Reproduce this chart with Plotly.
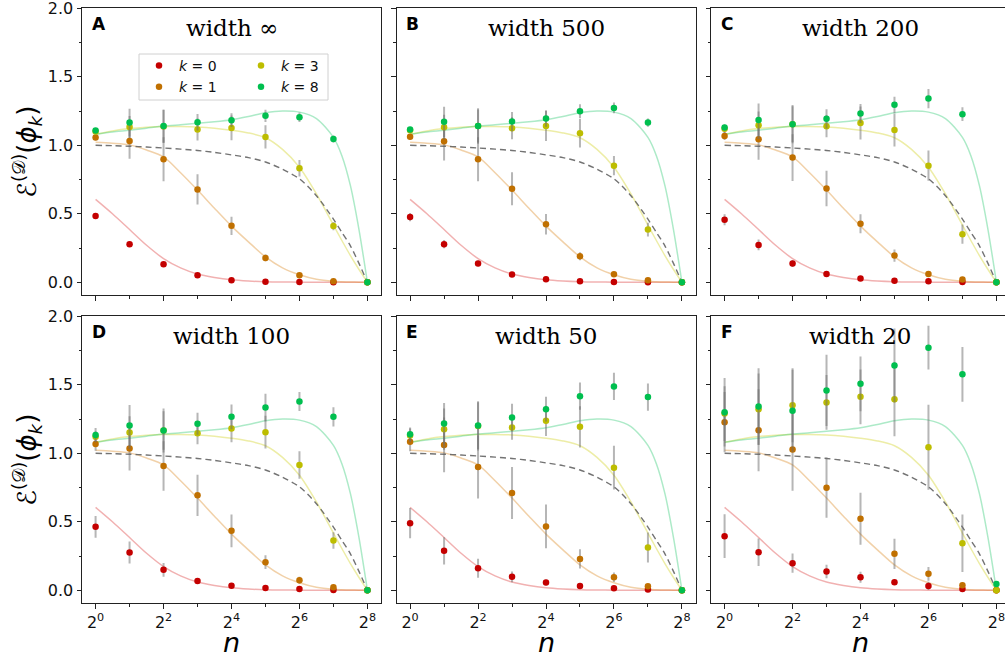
import math
import plotly.graph_objects as go

# ---------------- data ----------------
n_vals = [1, 2, 4, 8, 16, 32, 64, 128, 256]
panel_letters = ["A", "B", "C", "D", "E", "F"]
panel_widths = ["∞", "500", "200", "100", "50", "20"]
k_labels = ["0", "1", "3", "8"]

# measured means, one row per panel (A..F)
k0_mean = [
    [0.483, 0.278, 0.132, 0.051, 0.015, 0.003, 0.002, 0.000, 0.0],
    [0.476, 0.278, 0.137, 0.056, 0.022, 0.007, 0.002, 0.000, 0.0],
    [0.456, 0.273, 0.137, 0.061, 0.027, 0.012, 0.007, 0.002, 0.0],
    [0.463, 0.276, 0.149, 0.068, 0.034, 0.017, 0.010, 0.002, 0.0],
    [0.490, 0.288, 0.161, 0.098, 0.056, 0.032, 0.015, 0.005, 0.0],
    [0.395, 0.278, 0.198, 0.137, 0.095, 0.059, 0.032, 0.010, 0.0],
]
k0_err = [
    [0.02, 0.02, 0.015, 0.01, 0.005, 0.003, 0.002, 0.001, 0],
    [0.03, 0.03, 0.02, 0.01, 0.006, 0.003, 0.002, 0.001, 0],
    [0.04, 0.04, 0.025, 0.012, 0.008, 0.004, 0.003, 0.002, 0],
    [0.08, 0.08, 0.05, 0.02, 0.012, 0.006, 0.004, 0.002, 0],
    [0.11, 0.10, 0.07, 0.04, 0.02, 0.01, 0.006, 0.003, 0],
    [0.16, 0.10, 0.07, 0.05, 0.04, 0.02, 0.03, 0.01, 0],
]
k1_mean = [
    [1.056, 1.032, 0.898, 0.678, 0.412, 0.178, 0.051, 0.007, 0.0],
    [1.063, 1.029, 0.898, 0.683, 0.424, 0.190, 0.059, 0.015, 0.0],
    [1.068, 1.044, 0.910, 0.685, 0.427, 0.195, 0.061, 0.020, 0.0],
    [1.068, 1.034, 0.907, 0.693, 0.434, 0.205, 0.073, 0.022, 0.0],
    [1.085, 1.061, 0.900, 0.710, 0.466, 0.229, 0.095, 0.029, 0.0],
    [1.227, 1.168, 1.027, 0.749, 0.522, 0.266, 0.120, 0.037, 0.0],
]
k1_err = [
    [0.02, 0.13, 0.16, 0.11, 0.066, 0.025, 0.01, 0.005, 0],
    [0.02, 0.14, 0.16, 0.12, 0.075, 0.03, 0.012, 0.005, 0],
    [0.03, 0.15, 0.17, 0.13, 0.07, 0.045, 0.02, 0.008, 0],
    [0.05, 0.16, 0.18, 0.15, 0.12, 0.05, 0.025, 0.01, 0],
    [0.07, 0.20, 0.23, 0.19, 0.16, 0.07, 0.035, 0.015, 0],
    [0.22, 0.30, 0.30, 0.22, 0.19, 0.11, 0.05, 0.02, 0],
]
k3_mean = [
    [1.100, 1.134, 1.137, 1.115, 1.127, 1.061, 0.832, 0.410, 0.0],
    [1.110, 1.132, 1.141, 1.124, 1.141, 1.088, 0.851, 0.385, 0.0],
    [1.120, 1.146, 1.154, 1.139, 1.163, 1.112, 0.851, 0.351, 0.0],
    [1.120, 1.151, 1.166, 1.146, 1.180, 1.154, 0.915, 0.363, 0.0],
    [1.130, 1.176, 1.200, 1.188, 1.237, 1.193, 0.895, 0.312, 0.0],
    [1.290, 1.322, 1.351, 1.371, 1.412, 1.395, 1.044, 0.344, 0.0],
]
k3_err = [
    [0.02, 0.08, 0.12, 0.08, 0.09, 0.085, 0.06, 0.03, 0],
    [0.02, 0.09, 0.13, 0.08, 0.11, 0.105, 0.07, 0.05, 0],
    [0.03, 0.10, 0.14, 0.08, 0.12, 0.12, 0.11, 0.07, 0],
    [0.04, 0.12, 0.16, 0.08, 0.10, 0.12, 0.10, 0.06, 0],
    [0.05, 0.15, 0.18, 0.09, 0.11, 0.15, 0.16, 0.11, 0],
    [0.20, 0.26, 0.27, 0.20, 0.20, 0.27, 0.31, 0.21, 0],
]
k8_mean = [
    [1.107, 1.166, 1.141, 1.168, 1.183, 1.215, 1.205, 1.046, 0.0],
    [1.115, 1.171, 1.141, 1.173, 1.195, 1.249, 1.273, 1.166, 0.0],
    [1.129, 1.185, 1.154, 1.193, 1.232, 1.295, 1.341, 1.227, 0.0],
    [1.134, 1.202, 1.166, 1.215, 1.266, 1.334, 1.378, 1.266, 0.0],
    [1.139, 1.217, 1.202, 1.261, 1.322, 1.417, 1.488, 1.410, 0.0],
    [1.300, 1.341, 1.310, 1.459, 1.507, 1.641, 1.771, 1.576, 0.046],
]
k8_err = [
    [0.015, 0.10, 0.12, 0.06, 0.05, 0.045, 0.035, 0.025, 0],
    [0.015, 0.11, 0.12, 0.07, 0.06, 0.05, 0.04, 0.03, 0],
    [0.02, 0.12, 0.13, 0.07, 0.07, 0.06, 0.07, 0.05, 0],
    [0.05, 0.15, 0.14, 0.08, 0.09, 0.10, 0.07, 0.07, 0],
    [0.05, 0.15, 0.17, 0.10, 0.09, 0.10, 0.10, 0.10, 0],
    [0.25, 0.28, 0.30, 0.26, 0.20, 0.27, 0.16, 0.20, 0.02],
]

# theory curves (same in every panel), sampled along n
theory_n = [1, 1.41, 2, 2.83, 4, 5.66, 8, 11.3, 16, 22.6, 32, 45.3, 64, 90.5,
            128, 152, 181, 215, 256]
theory_k0 = [0.605, 0.50, 0.385, 0.27, 0.173, 0.105, 0.060, 0.035, 0.018, 0.009,
             0.004, 0.002, 0.001, 0.0, 0.0, 0.0, 0.0, 0.0, 0.0]
theory_k1 = [1.022, 1.015, 1.003, 0.965, 0.915, 0.80, 0.673, 0.54, 0.41, 0.295,
             0.185, 0.105, 0.055, 0.022, 0.007, 0.004, 0.002, 0.001, 0.0]
theory_k3 = [1.08, 1.105, 1.122, 1.132, 1.137, 1.137, 1.134, 1.125, 1.11, 1.09,
             1.055, 0.97, 0.84, 0.645, 0.417, 0.305, 0.195, 0.095, 0.0]
theory_k8 = [1.08, 1.097, 1.11, 1.125, 1.14, 1.15, 1.16, 1.172, 1.187, 1.21,
             1.237, 1.25, 1.242, 1.195, 1.058, 0.924, 0.705, 0.39, 0.0]
theory_dashed = [1.0, 0.997, 0.993, 0.987, 0.98, 0.972, 0.962, 0.948, 0.93, 0.91,
                 0.878, 0.825, 0.755, 0.632, 0.461, 0.365, 0.266, 0.14, 0.0]

# ---------------- style ----------------
W, H = 1005, 661
marker_colors = ["#c40000", "#c07000", "#bdbd00", "#00bf4f"]
curve_colors = ["rgba(220,60,60,0.40)", "rgba(220,140,40,0.40)",
                "rgba(215,215,60,0.45)", "rgba(40,200,110,0.38)"]
err_color = "rgba(110,110,110,0.50)"
axis_color = "#222222"

col_px = [(82, 381), (396.5, 695.5), (711, 1005)]
row_px = [(8, 295.3), (316, 603.3)]
px_per_unit = 299 / 8.8

means = [k0_mean, k1_mean, k3_mean, k8_mean]
errs = [k0_err, k1_err, k3_err, k8_err]
theories = [theory_k0, theory_k1, theory_k3, theory_k8]


def px_to_x(px):
    return px / W


def px_to_y(py):
    return 1 - py / H


fig = go.Figure()
layout = {}
annotations = []

for p in range(6):
    r, c = divmod(p, 3)
    idx = "" if p == 0 else str(p + 1)
    xa, ya = "x" + idx, "y" + idx
    x0, x1 = col_px[c]
    y0, y1 = row_px[r]
    lo = -0.4
    hi = lo + (x1 - x0) / px_per_unit
    layout["xaxis" + idx] = dict(
        domain=[px_to_x(x0), px_to_x(x1)], anchor=ya, type="log",
        range=[lo * math.log10(2), hi * math.log10(2)],
        tickvals=[1, 4, 16, 64, 256],
        ticktext=["2<sup>0</sup>", "2<sup>2</sup>", "2<sup>4</sup>",
                  "2<sup>6</sup>", "2<sup>8</sup>"],
        showticklabels=(r == 1), ticks="outside", ticklen=4.5, tickwidth=1,
        tickcolor=axis_color, ticklabeloverflow="allow",
        minor=dict(tickvals=[2, 8, 32, 128], ticks="outside", ticklen=2.5,
                   tickcolor=axis_color, tickwidth=1, showgrid=False),
        showline=True, linecolor=axis_color, linewidth=1, mirror=True,
        showgrid=False, zeroline=False,
        tickfont=dict(family="DejaVu Sans", size=16, color="#111"),
        automargin=False, fixedrange=True,
    )
    layout["yaxis" + idx] = dict(
        domain=[px_to_y(y1), px_to_y(y0)], anchor=xa,
        range=[-0.095, 2.002],
        tickvals=[0, 0.5, 1.0, 1.5, 2.0],
        ticktext=["0.0", "0.5", "1.0", "1.5", "2.0"],
        showticklabels=(c == 0), ticks="outside", ticklen=4.5, tickwidth=1,
        tickcolor=axis_color, ticklabeloverflow="allow",
        minor=dict(tickvals=[0.25, 0.75, 1.25, 1.75], ticks="outside",
                   ticklen=2.5, tickcolor=axis_color, tickwidth=1,
                   showgrid=False),
        showline=True, linecolor=axis_color, linewidth=1, mirror=(c != 2),
        showgrid=False, zeroline=False,
        tickfont=dict(family="DejaVu Sans", size=16, color="#111"),
        automargin=False, fixedrange=True,
    )

    # theory curves
    for ki in range(4):
        fig.add_trace(go.Scatter(
            x=theory_n, y=theories[ki], xaxis=xa, yaxis=ya, mode="lines",
            line=dict(color=curve_colors[ki], width=1.5, shape="spline",
                      smoothing=0.8),
            showlegend=False, hoverinfo="skip"))
    fig.add_trace(go.Scatter(
        x=theory_n, y=theory_dashed, xaxis=xa, yaxis=ya, mode="lines",
        line=dict(color="rgba(90,90,90,0.85)", width=1.4, dash="6px,4px",
                  shape="spline", smoothing=0.8),
        showlegend=False, hoverinfo="skip"))

    # measured points
    for ki in range(4):
        show = (p == 0)
        fig.add_trace(go.Scatter(
            x=n_vals, y=means[ki][p], xaxis=xa, yaxis=ya, mode="markers",
            marker=dict(color=marker_colors[ki], size=6.5),
            error_y=dict(type="data", array=errs[ki][p], visible=True,
                         color=err_color, thickness=2, width=0),
            name="<i>k</i> = " + k_labels[ki],
            showlegend=show,
            legend="legend" if ki in (0, 1) else "legend2",
            legendgroup="k" + k_labels[ki],
        ))

    cx = (x0 + x1) / 2 if c != 2 else (711 + 1009.6) / 2
    annotations.append(dict(
        text="width " + panel_widths[p], xref="paper", yref="paper",
        x=px_to_x(cx), y=px_to_y(y0 + 20), xanchor="center", yanchor="middle",
        showarrow=False, font=dict(family="DejaVu Serif", size=23, color="black")))
    annotations.append(dict(
        text="<b>" + panel_letters[p] + "</b>", xref="paper", yref="paper",
        x=px_to_x(x0 + 7.5), y=px_to_y(y0 + 16), xanchor="left",
        yanchor="middle", showarrow=False,
        font=dict(family="DejaVu Sans", size=17, color="black")))

# axis titles
for r in range(2):
    y0, y1 = row_px[r]
    annotations.append(dict(
        text="ℰ<sup>(𝒟)</sup>(<i>ϕ</i><sub><i>k</i></sub>)",
        xref="paper", yref="paper", x=px_to_x(27), y=px_to_y((y0 + y1) / 2),
        xanchor="center", yanchor="middle", textangle=-90, showarrow=False,
        font=dict(family="DejaVu Sans", size=26, color="black")))
for c in range(3):
    x0, x1 = col_px[c]
    cx = (x0 + x1) / 2 if c != 2 else (711 + 1009.6) / 2
    annotations.append(dict(
        text="<i>n</i>", xref="paper", yref="paper", x=px_to_x(cx),
        y=px_to_y(642), xanchor="center", yanchor="middle", showarrow=False,
        font=dict(family="DejaVu Sans", size=27, color="black")))

legend_common = dict(
    bgcolor="rgba(0,0,0,0)", borderwidth=0, xanchor="left", yanchor="top",
    font=dict(family="DejaVu Sans", size=14, color="#111"),
    tracegroupgap=0, itemclick=False, itemdoubleclick=False,
)

fig.update_layout(
    width=W, height=H, margin=dict(l=0, r=0, t=0, b=0),
    paper_bgcolor="white", plot_bgcolor="white",
    annotations=annotations,
    legend=dict(x=px_to_x(139), y=px_to_y(50), **legend_common),
    legend2=dict(x=px_to_x(241), y=px_to_y(50), **legend_common),
    shapes=[dict(type="rect", xref="paper", yref="paper",
                 x0=px_to_x(139), x1=px_to_x(328), y0=px_to_y(100),
                 y1=px_to_y(54), line=dict(color="#d0d0d0", width=1),
                 fillcolor="rgba(255,255,255,0.8)", layer="below")],
    **layout,
)

fig.write_html(
    "out.html",
    config={"displayModeBar": False},
    post_script="document.body.style.margin='0';document.body.style.overflow='hidden';",
)
